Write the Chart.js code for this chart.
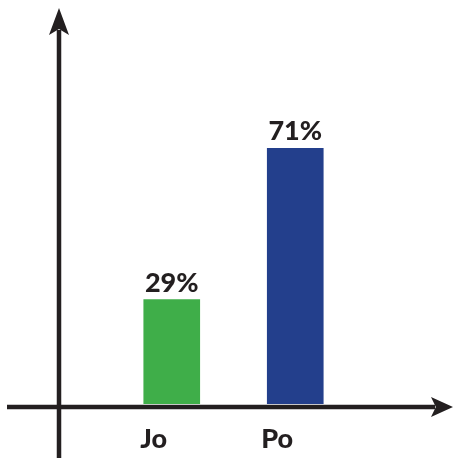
<!DOCTYPE html>
<html><head><meta charset="utf-8">
<script src="https://cdn.jsdelivr.net/npm/chart.js@4"></script>
<style>html,body{margin:0;padding:0;background:#fff}#wrap{width:454px;height:458px}</style>
</head><body><div id="wrap"><canvas id="c" width="454" height="458"></canvas></div>
<script>
const categories = ["Jo", "Po"];
const values = [29, 71];
const valueLabels = ["29%", "71%"];
const barColors = ["#3fae49", "#233f8c"];
const yMin = 0, yMax = 100;

const INK = "#231f20";
const FONT = "900 27px Lato, 'Open Sans', sans-serif";

function arrow(ctx, tipX, tipY, dir, len, half) {
  ctx.beginPath();
  if (dir === 'up') {
    ctx.moveTo(tipX, tipY);
    ctx.lineTo(tipX + half, tipY + len);
    ctx.lineTo(tipX, tipY + len * 0.78);
    ctx.lineTo(tipX - half, tipY + len);
  } else {
    ctx.moveTo(tipX, tipY);
    ctx.lineTo(tipX - len, tipY + half);
    ctx.lineTo(tipX - len * 0.78, tipY);
    ctx.lineTo(tipX - len, tipY - half);
  }
  ctx.closePath();
  ctx.fill();
}

const axesPlugin = {
  id: 'axesPlugin',
  afterDatasetsDraw(chart) {
    const {ctx, chartArea, scales} = chart;
    const xs = scales.x, ys = scales.y;
    ctx.save();
    ctx.fillStyle = INK;
    ctx.strokeStyle = INK;
    ctx.lineWidth = 4.5;
    const axisY = ys.getPixelForValue(yMin) + 3;
    const axisX = chartArea.left - 51;
    ctx.beginPath();
    ctx.moveTo(axisX, chart.height + 5);
    ctx.lineTo(axisX, 30);
    ctx.stroke();
    arrow(ctx, axisX, 8, 'up', 27, 10);
    ctx.beginPath();
    ctx.moveTo(7, axisY);
    ctx.lineTo(435, axisY);
    ctx.stroke();
    arrow(ctx, 453, axisY, 'right', 22, 10);
    ctx.font = FONT;
    ctx.textAlign = 'center';
    ctx.textBaseline = 'alphabetic';
    const meta = chart.getDatasetMeta(0);
    meta.data.forEach((bar, i) => {
      ctx.fillText(valueLabels[i], bar.x, bar.y - 8);
      ctx.fillText(categories[i], xs.getPixelForValue(i) - 18, axisY + 41);
    });
    ctx.restore();
  }
};

new Chart(document.getElementById('c'), {
  type: 'bar',
  data: {
    labels: categories,
    datasets: [{ data: values, backgroundColor: barColors, barThickness: 56, borderWidth: 0 }]
  },
  options: {
    responsive: false,
    animation: false,
    devicePixelRatio: 1,
    layout: { padding: { top: 44, bottom: 54, left: 110, right: 97 } },
    plugins: { legend: { display: false }, tooltip: { enabled: false }, title: { display: false } },
    scales: {
      x: { display: false },
      y: { display: false, min: yMin, max: yMax }
    }
  },
  plugins: [axesPlugin]
});
</script></body></html>
